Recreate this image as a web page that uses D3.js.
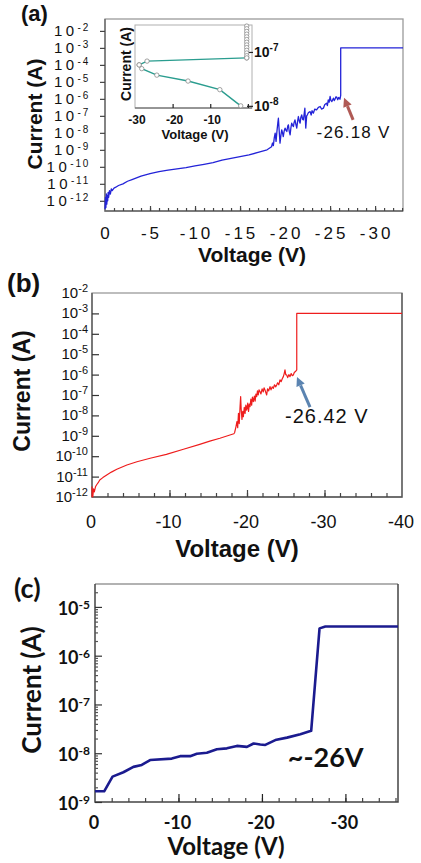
<!DOCTYPE html>
<html>
<head>
<meta charset="utf-8">
<script src="https://cdn.jsdelivr.net/npm/d3@7"></script>
<style>
  body { margin: 0; background: #fff; }
  svg { display: block; }
</style>
</head>
<body>
<div id="chart"></div>
<script>
// ---------- data (voltage in V, current as log10 of A) ----------

// (a) main I-V sweep
var aVolt = [0, -0.05, -0.1, -0.15, -0.2, -0.25, -0.3, -0.35, -0.4, -0.5, -0.6, -0.7, -0.8, -1.0, -1.2, -1.5,
    -2, -2.5, -3, -4, -5, -6, -7, -8, -9, -10, -11, -12, -13, -14, -15, -16, -17, -18,
    -18.5, -18.6, -18.7, -18.8, -18.9, -19.0, -19.1, -19.2, -19.26, -19.35, -19.44, -19.55, -19.63, -19.72,
    -19.8, -19.9, -20.0, -20.1, -20.2, -20.3, -20.37, -20.46, -20.56, -20.65, -20.74, -20.83, -20.93, -21.0,
    -21.1, -21.2, -21.3, -21.4, -21.48, -21.58, -21.67, -21.75, -21.85, -21.95, -22.04, -22.12, -22.2, -22.3,
    -22.4, -22.48, -22.6, -22.78, -22.9, -23.0, -23.15, -23.3, -23.5, -23.7, -23.9, -24.05, -24.26, -24.4,
    -24.6, -24.7, -24.8, -24.9, -25.0, -25.1, -25.2, -25.37, -25.46, -25.55, -25.65, -25.74, -25.85, -25.95,
    -26.1, -26.18, -26.18, -33.1];
var aLogI = [-12.5, -11.8, -12.4, -11.6, -12.2, -11.7, -12.0, -11.5, -11.8, -11.4, -11.6, -11.3, -11.4, -11.25, -11.2, -11.1,
    -11.0, -10.85, -10.75, -10.55, -10.4, -10.28, -10.2, -10.12, -10.05, -9.95, -9.85, -9.75, -9.6, -9.5, -9.4, -9.3, -9.15, -9.0,
    -8.82, -8.6, -8.75, -8.3, -8.02, -8.5, -7.9, -7.4, -7.14, -7.9, -8.61, -8.1, -7.82, -8.0,
    -8.22, -7.9, -7.72, -7.85, -7.92, -7.6, -7.53, -7.9, -8.12, -7.7, -7.43, -7.55, -7.63, -7.4,
    -7.24, -7.5, -7.72, -7.3, -7.04, -7.3, -7.43, -7.1, -6.94, -7.2, -7.24, -6.9, -6.55, -7.72,
    -7.0, -6.94, -6.8, -6.75, -6.95, -6.7, -6.84, -6.6, -6.65, -6.5, -6.45, -6.6, -6.55, -6.35,
    -6.25, -6.4, -6.06, -6.2, -5.86, -6.1, -6.16, -5.96, -6.1, -6.02, -5.88, -5.9, -6.05, -5.92,
    -6.02, -5.8, -3.0, -3.0];

// (a) inset: two branches plus a stack of points at ~0 V
var insetUpperVolt = [-28.9, -26.8, -0.3];
var insetUpperLogI = [-7.24, -7.17, -7.11];
var insetLowerVolt = [-28.9, -28.2, -24.2, -15.9, -7.45, -1.9];
var insetLowerLogI = [-7.24, -7.31, -7.43, -7.54, -7.70, -8.0];
var insetStackLogI = [-6.52, -6.57, -6.62, -6.67, -6.72, -6.77, -6.82, -6.87, -6.92, -6.97, -7.02, -7.07, -7.11];

// (b) I-V sweep
var bVolt = [0, 0, -0.05, -0.1, -0.2, -0.3, -0.45, -0.6, -0.8, -1.0, -1.4, -1.9, -2.5, -3.2, -4.5, -5.8, -7.5,
    -9.6, -11.8, -13.9, -15.2, -16.5, -17.5, -18.3,
    -18.4, -18.58, -18.7, -18.8, -18.9, -19.0, -19.1, -19.18, -19.25, -19.35, -19.45, -19.53, -19.65, -19.75,
    -19.85, -19.96, -20.1, -20.2, -20.3, -20.39, -20.5, -20.6, -20.7, -20.82, -20.95, -21.05, -21.15, -21.25,
    -21.35, -21.45, -21.55, -21.68, -21.8, -21.95, -22.1, -22.2, -22.32, -22.45, -22.54, -22.65, -22.8, -22.97,
    -23.1, -23.25, -23.4, -23.55, -23.7, -23.83, -23.95, -24.1, -24.26, -24.4, -24.55, -24.69, -24.8, -24.9,
    -25.0, -25.12, -25.25, -25.4, -25.55, -25.7, -25.85, -25.98, -26.1, -26.25, -26.42, -26.42, -40];
var bLogI = [-12.0, -11.5, -11.7, -12.0, -11.6, -11.75, -11.5, -11.4, -11.3, -11.17, -11.05, -10.92, -10.78, -10.64, -10.43, -10.27, -10.1,
    -9.91, -9.66, -9.42, -9.26, -9.12, -9.0, -8.9,
    -8.85, -8.55, -8.3, -8.6, -7.9, -8.4, -7.6, -7.08, -7.7, -8.2, -7.8, -8.06, -7.6, -7.9,
    -7.5, -7.74, -7.4, -7.8, -7.45, -7.57, -7.2, -7.5, -7.1, -7.33, -7.05, -7.3, -6.95, -7.08,
    -6.8, -7.0, -6.75, -6.84, -6.95, -6.7, -6.85, -6.65, -6.75, -6.9, -7.0, -6.7, -6.8, -6.59,
    -6.75, -6.6, -6.67, -6.5, -6.6, -6.51, -6.4, -6.5, -6.26, -6.35, -6.2, -6.1, -5.95, -5.77,
    -6.0, -6.02, -6.15, -6.0, -6.1, -5.95, -6.05, -6.02, -5.9, -5.85, -5.77, -3.0, -3.0];

// (c) I-V sweep
var cVolt = [0, -1.1, -2.1, -3.4, -4.6, -5.6, -6.6, -9.2, -10.2, -11.4, -12.2, -13.4, -14.6, -15.8, -17.0,
    -18.2, -19.0, -19.8, -20.4, -21.6, -23.0, -24.6, -25.9, -26.9, -27.6, -36.3];
var cLogI = [-8.78, -8.78, -8.48, -8.39, -8.28, -8.24, -8.14, -8.11, -8.06, -8.06, -8.01, -7.99, -7.92, -7.90, -7.85,
    -7.87, -7.80, -7.82, -7.83, -7.73, -7.68, -7.61, -7.54, -5.44, -5.40, -5.40];

// tick labels
var aXTicks = [0, -5, -10, -15, -20, -25, -30];
var aYExp = [-2, -3, -4, -5, -6, -7, -8, -9, -10, -11, -12];
var insetXTicks = [-30, -20, -10];
var insetYExp = [-7, -8];
var bXTicks = [0, -10, -20, -30, -40];
var bYExp = [-2, -3, -4, -5, -6, -7, -8, -9, -10, -11, -12];
var cXTicks = [0, -10, -20, -30];
var cYExp = [-5, -6, -7, -8, -9];

// ---------- drawing ----------
var ARIAL = "'Liberation Sans', Arial, sans-serif";
var CALIBRI = "Lato, 'Open Sans', sans-serif";

var svg = d3.select("#chart").append("svg")
    .attr("width", 421)
    .attr("height", 863);

function pow10(e) { return Math.pow(10, e); }

function toPoints(volts, logs) {
    return volts.map(function(v, i) { return [v, pow10(logs[i])]; });
}

// "10" + superscript exponent labels
function powLabels(g, exps, o) {
    var t = g.selectAll(null)
        .data(exps)
        .enter()
        .append("text")
        .attr("x", o.x)
        .attr("y", function(d) { return o.y(pow10(d)) + o.dy; })
        .attr("text-anchor", o.anchor)
        .style("font-family", o.font)
        .style("font-weight", o.weight)
        .style("fill", "#111");
    t.append("tspan")
        .style("font-size", o.base + "px")
        .style("letter-spacing", o.spacing + "px")
        .text("10");
    t.append("tspan")
        .attr("dy", o.sup)
        .style("font-size", o.exp + "px")
        .style("letter-spacing", (o.spacing / 2) + "px")
        .text(function(d) { return d; });
}

function arrow(g, x1, y1, x2, y2, color) {
    var dx = x2 - x1, dy = y2 - y1, len = Math.sqrt(dx * dx + dy * dy);
    var ux = dx / len, uy = dy / len, head = 9, half = 4.5;
    var bx = x2 - ux * head, by = y2 - uy * head;
    g.append("line")
        .attr("x1", x1).attr("y1", y1)
        .attr("x2", bx).attr("y2", by)
        .style("stroke", color)
        .style("stroke-width", 3);
    g.append("path")
        .attr("d", "M" + x2 + "," + y2 +
            "L" + (bx - uy * half) + "," + (by + ux * half) +
            "L" + (bx + uy * half) + "," + (by - ux * half) + "Z")
        .style("fill", color);
}

function rotLabel(g, cx, cy, size, font, text) {
    g.append("text")
        .attr("transform", "translate(" + cx + "," + cy + ") rotate(-90)")
        .attr("text-anchor", "middle")
        .style("font-family", font)
        .style("font-weight", "bold")
        .style("font-size", size + "px")
        .style("fill", "#111")
        .text(text);
}

function plainLabel(g, x, y, size, font, weight, anchor, text, spacing) {
    g.append("text")
        .attr("x", x)
        .attr("y", y)
        .attr("text-anchor", anchor)
        .style("font-family", font)
        .style("font-weight", weight)
        .style("font-size", size + "px")
        .style("letter-spacing", (spacing || 0) + "px")
        .style("fill", "#111")
        .text(text);
}

function tickAxis(g, axis, tx, ty, color) {
    var a = g.append("g")
        .attr("transform", "translate(" + tx + "," + ty + ")")
        .call(axis);
    a.select(".domain").remove();
    a.selectAll("line").style("stroke", color).style("stroke-width", 1.2);
    return a;
}

// ===== panel (a) =====
(function() {
    var g = svg.append("g");
    var x = d3.scaleLinear().domain([0, -33.1]).range([105, 403]);
    var y = d3.scaleLog().domain([pow10(-12.6), pow10(-1.3)]).range([211, 19]);

    g.append("rect")
        .attr("x", 105).attr("y", 19).attr("width", 298).attr("height", 192)
        .style("fill", "none").style("stroke", "#9a9a9a").style("stroke-width", 1.3);
    g.append("path").attr("d", "M105,19V211H403")
        .style("fill", "none").style("stroke", "#666").style("stroke-width", 1.3);

    // x ticks: minor every 1 V, major every 5 V, pointing inward
    tickAxis(g, d3.axisBottom(x).tickValues(d3.range(-1, -34, -1)).tickSize(-3).tickFormat(""), 0, 211, "#444");
    tickAxis(g, d3.axisBottom(x).tickValues(aXTicks.slice(1)).tickSize(-5).tickFormat(""), 0, 211, "#444");
    // y ticks outward
    tickAxis(g, d3.axisLeft(y).tickValues(aYExp.map(pow10)).tickSize(5).tickFormat(""), 105, 0, "#444");

    g.selectAll(null)
        .data(aXTicks)
        .enter()
        .append("text")
        .attr("x", function(d) { return x(d) + 1.5; })
        .attr("y", 239)
        .attr("text-anchor", "middle")
        .style("font-family", ARIAL)
        .style("font-size", "17px")
        .style("letter-spacing", "3px")
        .style("fill", "#111")
        .text(function(d) { return d; });

    powLabels(g, aYExp, { x: 90, y: y, dy: 5, anchor: "end", font: ARIAL, weight: "normal",
        base: 15, exp: 10, sup: -5, spacing: 3.5 });

    g.append("path")
        .datum(toPoints(aVolt, aLogI))
        .attr("d", d3.line().x(function(d) { return x(d[0]); }).y(function(d) { return y(d[1]); }))
        .style("fill", "none")
        .style("stroke", "#2323d8")
        .style("stroke-width", 1.3)
        .style("stroke-linejoin", "round");

    arrow(g, x(-27.56), y(pow10(-7.24)), x(-26.55), y(pow10(-5.94)), "#b05a55");
    plainLabel(g, x(-23.5), y(pow10(-8.3)), 17, ARIAL, "normal", "start", "-26.18 V", 1.2);

    plainLabel(g, 21, 21, 22, ARIAL, "bold", "start", "(a)");
    rotLabel(g, 42, 114, 21, ARIAL, "Current (A)");
    plainLabel(g, 252, 262, 21, ARIAL, "bold", "middle", "Voltage (V)");

    // ---- inset ----
    var ix = d3.scaleLinear().domain([-30, 1.1]).range([135, 252]);
    var iy = d3.scaleLog().domain([pow10(-8.04), pow10(-6.5)]).range([108, 25]);

    g.append("rect")
        .attr("x", 135).attr("y", 25).attr("width", 117).attr("height", 83)
        .style("fill", "#fff").style("stroke", "#b0b0b0").style("stroke-width", 1);
    g.append("path").attr("d", "M135,108H252")
        .style("fill", "none").style("stroke", "#555").style("stroke-width", 1.2);

    tickAxis(g, d3.axisBottom(ix).tickValues([-20, -10, 0]).tickSize(-4).tickFormat(""), 0, 108, "#222");
    tickAxis(g, d3.axisRight(iy).tickValues(insetYExp.map(pow10)).tickSize(6).tickFormat(""), 247, 0, "#222");

    var iline = d3.line().x(function(d) { return ix(d[0]); }).y(function(d) { return iy(d[1]); });
    var teal = "#2a9d8f";
    var upper = toPoints(insetUpperVolt, insetUpperLogI);
    var lower = toPoints(insetLowerVolt, insetLowerLogI);
    var stack = insetStackLogI.map(function(e) { return [-0.3, pow10(e)]; });

    [upper, lower].forEach(function(pts) {
        g.append("path").datum(pts).attr("d", iline)
            .style("fill", "none").style("stroke", teal).style("stroke-width", 1.4);
    });
    g.selectAll(null)
        .data(upper.concat(lower).concat(stack))
        .enter()
        .append("circle")
        .attr("cx", function(d) { return ix(d[0]); })
        .attr("cy", function(d) { return iy(d[1]); })
        .attr("r", 2.2)
        .style("fill", "#fff")
        .style("stroke", "#8a8a8a")
        .style("stroke-width", 0.8);

    g.selectAll(null)
        .data(insetXTicks)
        .enter()
        .append("text")
        .attr("x", function(d) { return ix(d) + 2; })
        .attr("y", 124)
        .attr("text-anchor", "middle")
        .style("font-family", ARIAL)
        .style("font-weight", "bold")
        .style("font-size", "12px")
        .style("fill", "#111")
        .text(function(d) { return d; });

    powLabels(g, insetYExp, { x: 254, y: iy, dy: 5, anchor: "start", font: ARIAL, weight: "bold",
        base: 14, exp: 10, sup: -6, spacing: 0 });

    rotLabel(g, 131, 64, 14, ARIAL, "Current (A)");
    plainLabel(g, 195, 138.5, 13, ARIAL, "bold", "middle", "Voltage (V)");
})();

// ===== panel (b) =====
(function() {
    var g = svg.append("g");
    var x = d3.scaleLinear().domain([0, -40]).range([92, 402]);
    var y = d3.scaleLog().domain([pow10(-12), pow10(-2)]).range([497, 293]);

    g.append("rect")
        .attr("x", 92).attr("y", 293).attr("width", 310).attr("height", 204)
        .style("fill", "none").style("stroke", "#9a9a9a").style("stroke-width", 1.3);
    g.append("path").attr("d", "M92,293V497H402V293")
        .style("fill", "none").style("stroke", "#555").style("stroke-width", 1.3);

    tickAxis(g, d3.axisBottom(x).tickValues(d3.range(-2, -40, -2)).tickSize(-4).tickFormat(""), 0, 497, "#444");
    tickAxis(g, d3.axisBottom(x).tickValues([-10, -20, -30]).tickSize(-7).tickFormat(""), 0, 497, "#444");
    tickAxis(g, d3.axisRight(y).tickValues(bYExp.slice(1, -1).map(pow10)).tickSize(7).tickFormat(""), 92, 0, "#333");

    g.selectAll(null)
        .data(bXTicks)
        .enter()
        .append("text")
        .attr("x", function(d) { return x(d) - 1; })
        .attr("y", 528)
        .attr("text-anchor", "middle")
        .style("font-family", ARIAL)
        .style("font-size", "18px")
        .style("fill", "#111")
        .text(function(d) { return d; });

    powLabels(g, bYExp, { x: 88, y: y, dy: 5, anchor: "end", font: ARIAL, weight: "normal",
        base: 15, exp: 11, sup: -6, spacing: 0 });

    g.append("path")
        .datum(toPoints(bVolt, bLogI))
        .attr("d", d3.line().x(function(d) { return x(d[0]); }).y(function(d) { return y(d[1]); }))
        .style("fill", "none")
        .style("stroke", "#ee1d1d")
        .style("stroke-width", 1.2)
        .style("stroke-linejoin", "round");

    arrow(g, x(-28.13), y(pow10(-7.59)), x(-26.45), y(pow10(-6.12)), "#5b84b1");
    plainLabel(g, x(-24.9), y(pow10(-8.37)), 20, ARIAL, "normal", "start", "-26.42 V", 1);

    plainLabel(g, 7, 292, 26, ARIAL, "bold", "start", "(b)");
    rotLabel(g, 30, 391, 23, ARIAL, "Current (A)");
    plainLabel(g, 237, 557, 24, ARIAL, "bold", "middle", "Voltage (V)");
})();

// ===== panel (c) =====
(function() {
    var g = svg.append("g");
    var x = d3.scaleLinear().domain([0, -36.3]).range([95, 398]);
    var y = d3.scaleLog().domain([pow10(-9), pow10(-4.53)]).range([802, 584]);

    g.append("path").attr("d", "M95,584H398")
        .style("fill", "none").style("stroke", "#999").style("stroke-width", 1.5);
    g.append("path").attr("d", "M95,584V802H398V584")
        .style("fill", "none").style("stroke", "#444").style("stroke-width", 1.5);

    var majors = cYExp.map(pow10);
    var minors = y.ticks().filter(function(v) {
        return majors.every(function(m) { return Math.abs(v / m - 1) > 1e-6; });
    });
    tickAxis(g, d3.axisRight(y).tickValues(minors).tickSize(3).tickFormat(""), 95, 0, "#555");
    tickAxis(g, d3.axisRight(y).tickValues(majors).tickSize(7).tickFormat(""), 95, 0, "#333");
    tickAxis(g, d3.axisBottom(x).tickValues(d3.range(-2, -37, -2)).tickSize(-4).tickFormat(""), 0, 802, "#444");
    tickAxis(g, d3.axisBottom(x).tickValues([-10, -20, -30]).tickSize(-8).tickFormat(""), 0, 802, "#222");

    g.selectAll(null)
        .data(cXTicks)
        .enter()
        .append("text")
        .attr("x", function(d) { return x(d) - 1; })
        .attr("y", 829)
        .attr("text-anchor", "middle")
        .style("font-family", CALIBRI)
        .style("font-weight", "bold")
        .style("font-size", "18px")
        .style("fill", "#111")
        .text(function(d) { return d; });

    powLabels(g, cYExp, { x: 90, y: y, dy: 8, anchor: "end", font: CALIBRI, weight: "bold",
        base: 18, exp: 12, sup: -6, spacing: 0 });

    g.append("path")
        .datum(toPoints(cVolt, cLogI))
        .attr("d", d3.line().x(function(d) { return x(d[0]); }).y(function(d) { return y(d[1]); }))
        .style("fill", "none")
        .style("stroke", "#1b1b8f")
        .style("stroke-width", 2.6)
        .style("stroke-linejoin", "round");

    plainLabel(g, x(-23.1), y(pow10(-8.28)), 27, CALIBRI, "bold", "start", "~-26V");

    plainLabel(g, 14, 598, 27, CALIBRI, "bold", "start", "(c)");
    rotLabel(g, 41, 690, 26, CALIBRI, "Current (A)");
    plainLabel(g, 226, 855, 24, CALIBRI, "bold", "middle", "Voltage (V)");
})();
</script>
</body>
</html>
